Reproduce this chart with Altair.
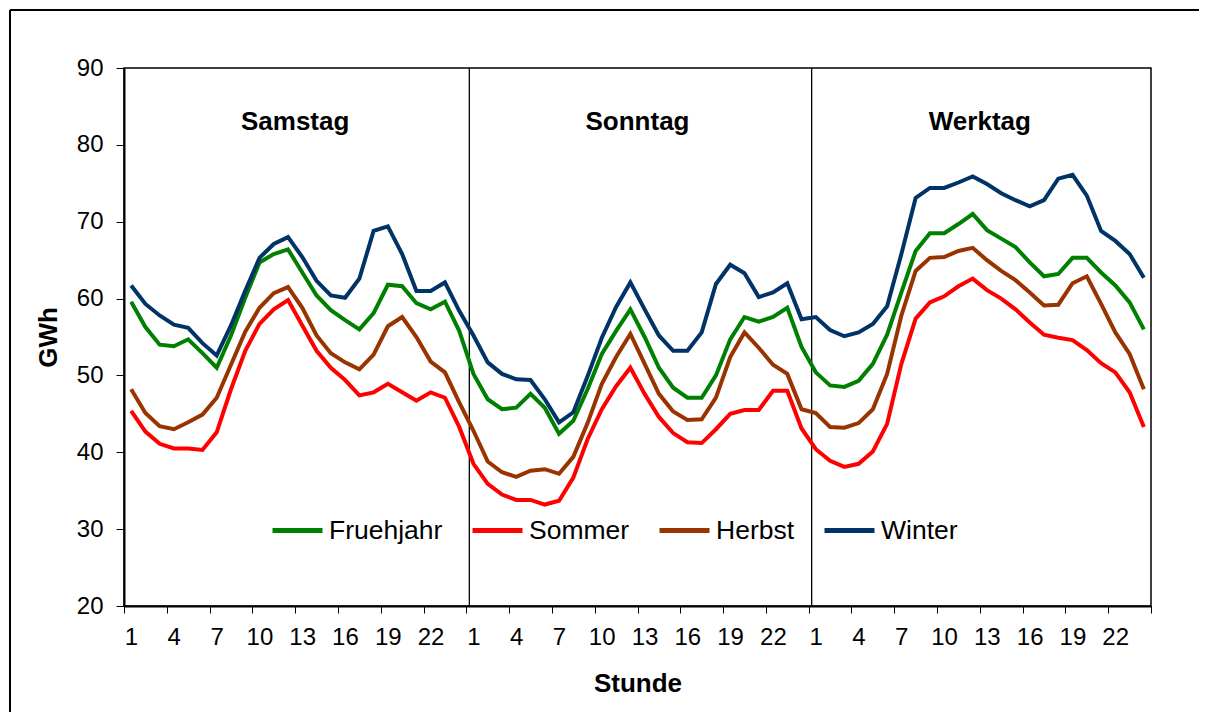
import altair as alt
import pandas as pd

days = ["Samstag", "Sonntag", "Werktag"]
seasons = ["Fruehjahr", "Sommer", "Herbst", "Winter"]
colors = ["#008000", "#FF0000", "#993300", "#003366"]

# 72 hourly values: Samstag 1-24, Sonntag 1-24, Werktag 1-24 (GWh)
fruehjahr = [
    59.6, 56.3, 54.0, 53.8, 54.7, 52.9, 51.0, 55.2, 60.1, 64.7, 65.8, 66.4,
    63.4, 60.4, 58.5, 57.2, 56.0, 58.1, 61.8, 61.6, 59.4, 58.6, 59.6, 55.8,
    50.2, 46.9, 45.6, 45.8, 47.6, 45.8, 42.4, 44.1, 48.2, 52.8, 55.8, 58.6,
    55.0, 51.0, 48.4, 47.1, 47.1, 50.0, 54.7, 57.6, 57.0, 57.6, 58.8, 53.7,
    50.4, 48.7, 48.5, 49.3, 51.5, 55.3, 60.8, 66.2, 68.5, 68.5, 69.7, 71.0,
    68.9, 67.8, 66.7, 64.7, 62.9, 63.2, 65.3, 65.3, 63.4, 61.7, 59.5, 56.0,
]
sommer = [
    45.4, 42.7, 41.1, 40.5, 40.5, 40.3, 42.6, 48.2, 53.2, 56.7, 58.6, 59.8,
    56.5, 53.2, 51.0, 49.4, 47.4, 47.8, 48.9, 47.8, 46.7, 47.8, 47.1, 43.3,
    38.5, 35.9, 34.5, 33.8, 33.8, 33.2, 33.7, 36.7, 41.7, 45.6, 48.6, 51.0,
    47.6, 44.6, 42.5, 41.3, 41.2, 43.0, 45.0, 45.5, 45.5, 48.0, 48.0, 43.1,
    40.4, 38.9, 38.1, 38.5, 40.1, 43.7, 51.5, 57.4, 59.5, 60.3, 61.6, 62.6,
    61.1, 60.0, 58.6, 56.9, 55.3, 54.9, 54.6, 53.3, 51.6, 50.4, 47.8, 43.3,
]
herbst = [
    48.2, 45.1, 43.4, 43.0, 43.9, 44.9, 47.1, 51.4, 55.7, 58.8, 60.7, 61.5,
    58.8, 55.2, 52.9, 51.7, 50.8, 52.7, 56.4, 57.6, 55.0, 51.8, 50.4, 46.5,
    42.8, 38.8, 37.4, 36.8, 37.6, 37.8, 37.2, 39.4, 43.8, 48.9, 52.4, 55.4,
    51.5, 47.6, 45.3, 44.2, 44.3, 47.1, 52.4, 55.6, 53.6, 51.4, 50.2, 45.6,
    45.1, 43.3, 43.2, 43.8, 45.6, 50.2, 57.8, 63.6, 65.3, 65.4, 66.2, 66.6,
    65.0, 63.6, 62.4, 60.8, 59.1, 59.2, 62.0, 62.9, 59.3, 55.6, 52.8, 48.2,
]
winter = [
    61.7, 59.3, 57.8, 56.6, 56.2, 54.2, 52.6, 56.5, 61.0, 65.3, 67.1, 68.0,
    65.4, 62.3, 60.4, 60.1, 62.6, 68.8, 69.4, 65.8, 61.0, 61.0, 62.1, 58.4,
    55.2, 51.7, 50.2, 49.5, 49.4, 46.9, 43.9, 45.2, 49.9, 54.9, 58.9, 62.1,
    58.6, 55.2, 53.2, 53.2, 55.6, 61.9, 64.4, 63.3, 60.2, 60.8, 62.0, 57.3,
    57.6, 55.9, 55.1, 55.6, 56.7, 59.0, 65.8, 73.1, 74.4, 74.4, 75.1, 75.9,
    74.9, 73.7, 72.8, 72.0, 72.8, 75.6, 76.1, 73.4, 68.8, 67.5, 65.8, 62.7,
]

rows = []
for order, (s, vals) in enumerate(zip(seasons, [fruehjahr, sommer, herbst, winter])):
    for i, v in enumerate(vals):
        rows.append({"idx": i + 1, "stunde": i % 24 + 1, "tag": days[i // 24],
                     "saison": s, "ord": order, "gwh": v})
df = pd.DataFrame(rows)

day_df = pd.DataFrame({"tag": days, "xc": [k * 24 + 12.5 for k in range(3)], "yv": [81.9] * 3})
sep_df = pd.DataFrame({"xs": [k * 24 + 0.5 for k in (1, 2)]})
frame_df = pd.DataFrame({"a": [0]})

FONT = "Liberation Sans"
tick_vals = [0.5 + 3 * k for k in range(25)]

W, H = 1027, 538
PAD = {"left": 116, "top": 60, "right": 48, "bottom": 106}

xscale = alt.Scale(domain=[0.5, 72.5], nice=False, zero=False)
yscale = alt.Scale(domain=[20, 90], nice=False, zero=False)

lines = alt.Chart(df).mark_line(strokeWidth=4).encode(
    x=alt.X("idx:Q", scale=xscale, axis=alt.Axis(
        values=tick_vals,
        labelExpr="datum.value > 72 ? '' : '' + (((datum.value - 0.5) % 24) + 1)",
        labelOffset=7, labelFlush=False, labelOverlap=False,
        title="Stunde", titleFontSize=26, titleFontWeight="bold", titlePadding=21,
        labelFontSize=24, labelPadding=12, tickSize=7, grid=False)),
    y=alt.Y("gwh:Q", scale=yscale, axis=alt.Axis(
        values=list(range(20, 91, 10)), title="GWh", titleFontSize=26,
        titleFontWeight="bold", titlePadding=15, labelFontSize=24,
        labelPadding=13, tickSize=8, grid=False)),
    color=alt.Color("saison:N", scale=alt.Scale(domain=seasons, range=colors),
                    legend=alt.Legend(
                        title=None, orient="none", direction="horizontal",
                        legendX=146, legendY=435, symbolType="stroke",
                        symbolSize=2500, symbolStrokeWidth=5, labelFontSize=26.5,
                        labelOffset=4, columnPadding=19, labelLimit=300)),
    order=alt.Order("ord:Q"),
    detail="saison:N",
)

seps = alt.Chart(sep_df).mark_rule(color="black", strokeWidth=1.3, xOffset=3).encode(
    x=alt.X("xs:Q", scale=xscale)
)

day_text = alt.Chart(day_df).mark_text(
    font=FONT, fontSize=26, fontWeight="bold", color="black", baseline="alphabetic"
).encode(
    x=alt.X("xc:Q", scale=xscale),
    y=alt.Y("yv:Q", scale=yscale),
    text="tag:N",
)

# outer chart frame (top and left edges; the others lie outside the picture)
frame_top = alt.Chart(frame_df).mark_rule(color="black", strokeWidth=2).encode(
    x=alt.value(-114), x2=alt.value(W + PAD["right"]), y=alt.value(-58)
)
frame_left = alt.Chart(frame_df).mark_rule(color="black", strokeWidth=2).encode(
    x=alt.value(-114), y=alt.value(-58), y2=alt.value(H + PAD["bottom"])
)

chart = alt.layer(frame_top, frame_left, seps, lines, day_text).properties(
    width=W, height=H,
    autosize=alt.AutoSizeParams(type="none"),
    padding=PAD,
    background="white",
).configure(font=FONT).configure_view(
    stroke="black", strokeWidth=1.5
).configure_axis(
    domainColor="black", domainWidth=2, tickColor="black", tickWidth=1,
    labelColor="black", titleColor="black", labelFont=FONT, titleFont=FONT
).configure_legend(labelFont=FONT, labelColor="black")

chart.save("out.html", embed_options={"renderer": "svg", "actions": False})
